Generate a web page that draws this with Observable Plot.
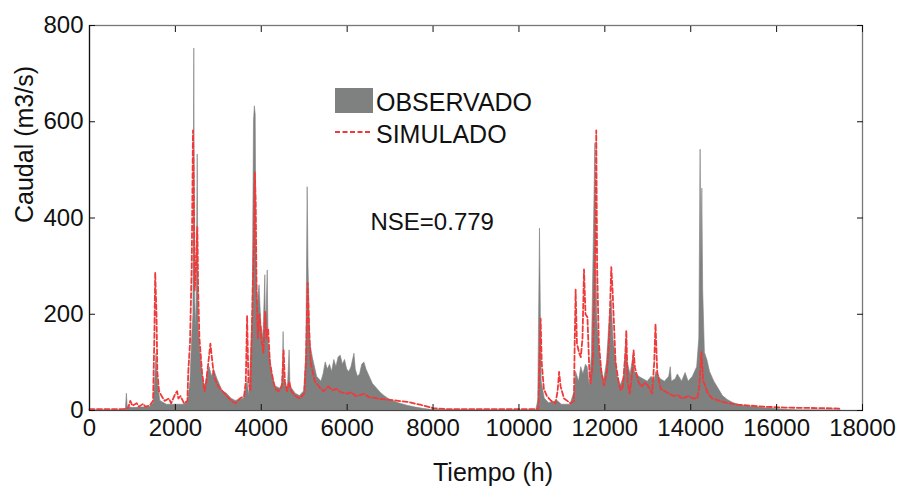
<!DOCTYPE html>
<html>
<head>
<meta charset="utf-8">
<script src="https://cdn.jsdelivr.net/npm/d3@7"></script>
<script src="https://cdn.jsdelivr.net/npm/@observablehq/plot@0.6"></script>
<style>
  html, body { margin: 0; padding: 0; background: #fff; }
  #chart { width: 901px; height: 494px; }
</style>
</head>
<body>
<div id="chart"></div>
<script>
// ---- Data ----
const xTicks = [0, 2000, 4000, 6000, 8000, 10000, 12000, 14000, 16000, 18000];
const yTicks = [0, 200, 400, 600, 800];

const obsTime = [0,800,850,870,890,1000,1200,1400,1500,1540,1560,1590,1650,1800,2000,2200,2300,2350,2390,2420,2440,2460,2490,2520,2540,2580,2650,2700,2750,2800,2850,2900,2980,3100,3200,3300,3400,3500,3600,3680,3720,3800,3830,3850,3870,3890,3920,3960,4000,4050,4095,4110,4150,4170,4250,4330,4450,4500,4520,4540,4620,4660,4680,4800,4900,5000,5050,5080,5100,5140,5200,5300,5400,5450,5500,5550,5600,5650,5700,5750,5800,5850,5900,5950,6000,6050,6100,6170,6200,6250,6300,6350,6400,6450,6500,6600,6700,6800,6900,7000,7200,7400,7600,7800,8000,10400,10450,10490,10510,10530,10600,10700,10900,11000,11200,11300,11330,11400,11450,11500,11560,11600,11650,11700,11780,11800,11830,11900,11980,12050,12120,12160,12200,12300,12370,12450,12500,12530,12600,12670,12700,12800,12900,13000,13090,13150,13200,13300,13400,13500,13535,13560,13650,13700,13800,13880,13950,14050,14150,14200,14230,14250,14270,14290,14330,14390,14450,14550,14650,14750,14860,15000,15200,15400,15700,16000,16300,16500,17500];
const obsFlow = [0,0,5,35,8,5,6,7,15,80,118,60,20,12,12,12,20,60,150,200,752,230,170,532,180,120,60,50,80,90,70,85,65,40,35,25,20,22,25,60,30,200,600,632,615,300,220,260,180,150,281,150,291,140,80,50,45,60,163,60,45,125,50,35,30,40,120,464,300,140,110,70,60,75,100,85,95,80,105,90,110,114,95,105,85,80,90,118,85,70,75,95,100,85,75,55,45,35,28,22,15,10,6,3,1,0,20,378,200,60,25,15,20,12,12,40,80,60,90,75,95,90,50,120,555,300,180,100,60,100,200,230,150,70,52,70,143,100,75,115,80,70,65,60,70,60,80,65,60,70,90,60,65,75,60,78,60,70,90,150,542,300,461,250,120,104,80,60,45,30,22,15,10,8,5,3,1,0,0];

const simTime = [0,800,900,950,1000,1100,1150,1250,1300,1400,1480,1510,1530,1560,1580,1620,1680,1750,1850,1900,2000,2040,2070,2120,2200,2280,2300,2340,2380,2410,2430,2450,2480,2510,2530,2560,2620,2680,2720,2780,2815,2850,2900,3000,3100,3200,3300,3400,3500,3600,3640,3670,3700,3750,3800,3830,3850,3870,3890,3920,3960,4000,4050,4090,4120,4160,4200,4280,4330,4400,4480,4520,4550,4600,4650,4700,4800,4900,5000,5040,5080,5110,5150,5250,5380,5450,5560,5650,5750,5850,6000,6100,6200,6300,6400,6500,6700,7000,7400,7700,8000,8300,10450,10480,10505,10530,10580,10650,10750,10850,10900,10935,10970,11050,11200,11280,11300,11320,11350,11400,11440,11480,11515,11550,11595,11640,11670,11720,11780,11800,11820,11860,11920,11980,12050,12100,12150,12180,12250,12320,12370,12420,12480,12500,12530,12580,12640,12670,12700,12780,12850,12950,13050,13100,13150,13180,13220,13300,13400,13500,13600,13700,13800,13950,14050,14150,14200,14250,14290,14340,14400,14500,14600,14750,14900,15100,15400,15700,16200,17000,17500];
const simFlow = [3,3,5,20,10,15,8,14,8,10,20,150,287,200,80,40,30,20,25,15,35,40,25,30,15,20,80,140,300,582,450,250,300,381,250,150,80,40,60,110,139,110,70,50,40,30,20,15,25,30,60,197,60,40,250,350,495,430,250,150,200,150,120,205,150,170,100,60,45,40,50,125,60,40,60,40,30,25,35,100,265,180,100,60,46,40,50,42,45,38,35,38,30,32,35,28,25,22,18,12,5,3,3,100,191,100,45,30,20,15,40,80,50,25,15,20,150,251,140,120,111,150,293,200,194,80,56,100,350,582,300,140,80,52,80,150,298,250,100,60,42,50,120,166,60,35,80,125,90,60,50,58,45,35,100,180,80,45,40,35,30,32,25,30,25,25,50,121,62,50,35,25,22,18,15,12,10,8,6,5,4];

const legendObs = "OBSERVADO";
const legendSim = "SIMULADO";
const nseLabel = "NSE=0.779";
const xLabel = "Tiempo (h)";
const yLabel = "Caudal (m3/s)";

// ---- Build tables ----
const observed = obsTime.map((t, i) => ({t, q: obsFlow[i]}));
const simulated = simTime.map((t, i) => ({t, q: simFlow[i]}));

const FONT = "'Liberation Sans', Arial, Helvetica, sans-serif";
const RED = "#f03a3a";
const GRAY = "#7f8080";

const plot = Plot.plot({
  width: 901,
  height: 494,
  marginLeft: 89,
  marginRight: 39,
  marginTop: 25,
  marginBottom: 84,
  style: {fontFamily: FONT, fontSize: "24px", color: "#111", background: "#fff"},
  x: {domain: [0, 18000]},
  y: {domain: [0, 800]},
  marks: [
    Plot.areaY(observed, {x: "t", y: "q", fill: GRAY, stroke: GRAY, strokeWidth: 0.6, curve: "linear"}),
    Plot.line(simulated, {x: "t", y: "q", stroke: RED, strokeWidth: 1.8, strokeDasharray: "5,2.5", curve: "linear"}),
    Plot.frame({stroke: "#777", strokeWidth: 1.3}),
    Plot.ruleX([0], {stroke: "#111", strokeWidth: 1.2}),
    Plot.ruleY([0], {stroke: "#444", strokeWidth: 1.2}),
    Plot.axisX({ticks: xTicks, tickSize: -6, tickPadding: 14, label: null, fontSize: 24, tickFormat: d => String(d)}),
    Plot.axisX({anchor: "top", ticks: xTicks, tickSize: -6, label: null, tickFormat: () => ""}),
    Plot.axisY({ticks: yTicks, tickSize: -6, tickPadding: 12, label: null, fontSize: 24, tickFormat: d => String(d)}),
    Plot.axisY({anchor: "right", ticks: yTicks, tickSize: -6, label: null, tickFormat: () => ""}),
    Plot.text([xLabel], {frameAnchor: "bottom", dx: 17, dy: 70, fontSize: 25, fill: "#111"}),
    Plot.text([yLabel], {frameAnchor: "left", rotate: -90, dx: -65, dy: 5, fontSize: 25, fill: "#111"}),
    Plot.text([nseLabel], {frameAnchor: "top-left", dx: 281, dy: 187, textAnchor: "start", fontSize: 24, fill: "#111"})
  ]
});

// Legend inside the frame (drawn onto the plot's svg)
const svg = d3.select(plot);
const lg = svg.append("g")
  .attr("font-family", FONT).attr("font-size", 25).attr("fill", "#111")
  .attr("text-anchor", "start");
lg.append("rect").attr("x", 335).attr("y", 88).attr("width", 38).attr("height", 25).attr("fill", GRAY);
lg.append("text").attr("x", 376).attr("y", 111).attr("text-anchor", "start").text(legendObs);
lg.append("line").attr("x1", 335).attr("x2", 372).attr("y1", 132).attr("y2", 132)
  .attr("stroke", RED).attr("stroke-width", 1.8).attr("stroke-dasharray", "5,2.5");
lg.append("text").attr("x", 376).attr("y", 143).attr("text-anchor", "start").text(legendSim);

document.getElementById("chart").appendChild(plot);
</script>
</body>
</html>
